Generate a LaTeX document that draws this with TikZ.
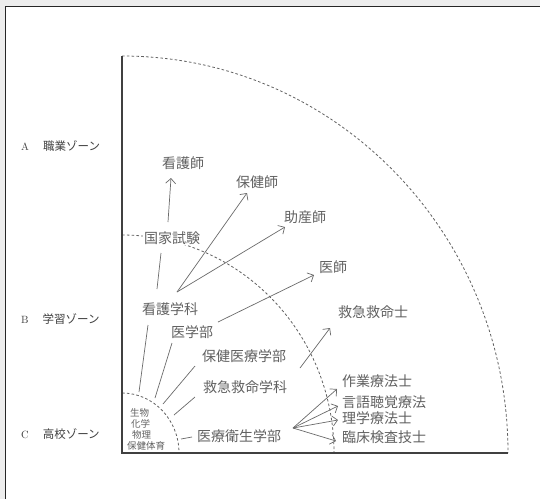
\documentclass[tikz,border=0pt]{standalone}
\usepackage{fontspec}
\newfontfamily\jp{Noto Sans CJK JP}
\usetikzlibrary{arrows.meta}
\begin{document}
\begin{tikzpicture}[x=1pt,y=-1pt,
  hand/.style={font=\jp\fontsize{14}{14}\selectfont, text=black!62, inner sep=1pt},
  small/.style={font=\jp\fontsize{9.5}{11}\selectfont, text=black!62, inner sep=0pt, align=left, anchor=north west},
  zone/.style={font=\fontsize{10.5}{10.5}\selectfont, text=black!75, anchor=west, inner sep=0pt},
  con/.style={draw=black!58, line width=0.7pt},
  arr/.style={con, -{Straight Barb[length=5pt,width=10pt]}},
  bound/.style={draw=black!62, line width=0.8pt, dash pattern=on 2.6pt off 2.2pt},
  axis/.style={draw=black!75, line width=1.3pt}
]
\useasboundingbox (0,0) rectangle (540,499);
\fill[black!7] (0,0) rectangle (540,499);
\fill[white] (5,6) rectangle (540,499);
\draw[black!85, line width=1pt] (5,499) -- (5,6) -- (540,6);

% zone dashed arcs
\draw[bound] (122,56) arc[start angle=90, end angle=0, x radius=386pt, y radius=397pt];
\draw[bound] (122,235) arc[start angle=90, end angle=0, x radius=212pt, y radius=218pt];
\draw[bound] (122,393) arc[start angle=90, end angle=0, x radius=57pt, y radius=60pt];

% axes
\draw[axis] (122,56) -- (122,453) -- (508,453);

% zone labels
\node[zone] (za) at (21,146) {A\hspace{14pt}{\jp\fontsize{11.5}{11.5}\selectfont 職業ゾーン}};
\node[zone] (zb) at (21,319) {B\hspace{14pt}{\jp\fontsize{11.5}{11.5}\selectfont 学習ゾーン}};
\node[zone] (zc) at (21,434) {C\hspace{14pt}{\jp\fontsize{11.5}{11.5}\selectfont 高校ゾーン}};

% handwritten labels
\node[hand] (kangoshi) at (183,163) {看護師};
\node[hand] (hokenshi) at (257,182) {保健師};
\node[hand] (josanshi) at (305,217) {助産師};
\node[hand, fill=white] (kokka) at (172,238) {国家試験};
\node[hand] (ishi) at (333,267) {医師};
\node[hand] (kangogakka) at (170,309) {看護学科};
\node[hand] (igakubu) at (192,332) {医学部};
\node[hand] (kyushi) at (373,312) {救急救命士};
\node[hand] (hoken) at (244,356) {保健医療学部};
\node[hand] (kyugaku) at (245,387) {救急救命学科};
\node[hand, anchor=west] (sagyo) at (341,381) {作業療法士};
\node[hand, anchor=west] (gengo) at (341,402) {言語聴覚療法};
\node[hand, anchor=west] (rigaku) at (341,418) {理学療法士};
\node[hand, anchor=west] (rinsho) at (341,437) {臨床検査技士};
\node[hand] (eisei) at (239,436) {医療衛生学部};
\node[small] (kokou) at (127,408) {\hspace{3pt}生物\\\hspace{4pt}化学\\\hspace{5pt}物理\\保健体育};

% connector endpoints
\coordinate (kk-t) at (168,222);
\coordinate (kg-k) at (157,289);
\coordinate (kk-b) at (161,253);
\coordinate (kg-t) at (177,292);
\coordinate (ig-r) at (218,322);
\coordinate (kyg-r) at (300,368);
\coordinate (es-r) at (293,428);
\coordinate (a1) at (139,392);
\coordinate (a2) at (155,398);
\coordinate (a3) at (163,404);
\coordinate (a4) at (174,415);
\coordinate (a5) at (181,439);
\coordinate (b1) at (148,325);
\coordinate (b2) at (172,343);
\coordinate (b3) at (195,366);
\coordinate (b4) at (195,397);
\coordinate (b5) at (192,437);
\coordinate (t-kangoshi) at (171,178);
\coordinate (t-hokenshi) at (247,193);
\coordinate (t-josanshi) at (285,227);
\coordinate (t-ishi) at (314,275);
\coordinate (t-kyushi) at (330,328);
\coordinate (t-sagyo) at (337,389);
\coordinate (t-gengo) at (338,406);
\coordinate (t-rigaku) at (338,420);
\coordinate (t-rinsho) at (336,441);

% connectors
\draw[arr] (kk-t) -- (t-kangoshi);
\draw[con] (kg-k) -- (kk-b);
\draw[arr] (kg-t) -- (t-hokenshi);
\draw[arr] (kg-t) -- (t-josanshi);
\draw[arr] (ig-r) -- (t-ishi);
\draw[arr] (kyg-r) -- (t-kyushi);
\draw[arr] (es-r) -- (t-sagyo);
\draw[arr] (es-r) -- (t-gengo);
\draw[arr] (es-r) -- (t-rigaku);
\draw[arr] (es-r) -- (t-rinsho);
\draw[con] (a1) -- (b1);
\draw[con] (a2) -- (b2);
\draw[con] (a3) -- (b3);
\draw[con] (a4) -- (b4);
\draw[con] (a5) -- (b5);
\end{tikzpicture}
\end{document}
